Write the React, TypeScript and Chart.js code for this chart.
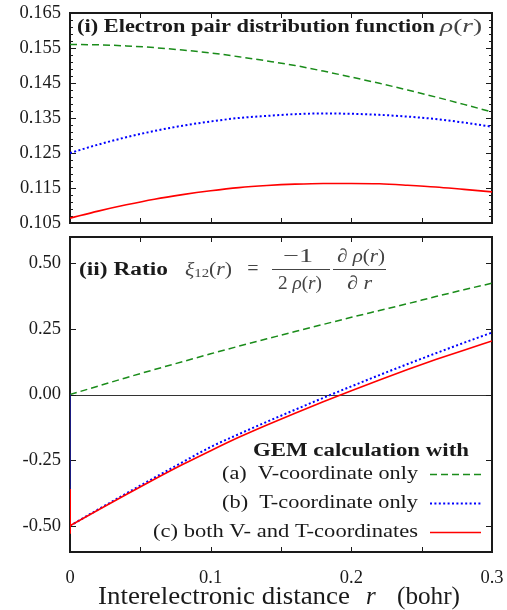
import React, { useEffect, useRef } from "react";
import { Chart, registerables } from "chart.js";

Chart.register(...registerables);

// ---------- data ----------
const rGrid = [0, 0.02, 0.04, 0.06, 0.08, 0.1, 0.12, 0.14, 0.16, 0.18, 0.2, 0.22, 0.24, 0.26, 0.28, 0.3];

// panel (i): pair distribution rho(r)
const rhoV = [0.156, 0.1559, 0.1556, 0.1551, 0.1544, 0.1536, 0.1525, 0.1513, 0.15, 0.1484, 0.1467, 0.1449, 0.143, 0.141, 0.1389, 0.1367];
const rhoT = [0.125, 0.1274, 0.1295, 0.1313, 0.1328, 0.134, 0.135, 0.1356, 0.1361, 0.1363, 0.1362, 0.1359, 0.1354, 0.1347, 0.1337, 0.1325];
const rhoVT = [0.1064, 0.1084, 0.1102, 0.1118, 0.1131, 0.1142, 0.1151, 0.1157, 0.1161, 0.1163, 0.1163, 0.1162, 0.1158, 0.1153, 0.1146, 0.1139];

// panel (ii): ratio xi12(r)
const xiV = [0, 0.032, 0.064, 0.095, 0.125, 0.155, 0.184, 0.212, 0.24, 0.267, 0.294, 0.32, 0.346, 0.373, 0.399, 0.424];
const xiT = [-0.5, -0.438, -0.377, -0.317, -0.258, -0.2, -0.151, -0.104, -0.058, -0.013, 0.031, 0.074, 0.116, 0.157, 0.197, 0.236];
const xiVT = [-0.5, -0.44, -0.381, -0.323, -0.267, -0.214, -0.163, -0.116, -0.071, -0.028, 0.014, 0.055, 0.095, 0.133, 0.169, 0.204];
// numerical spikes at r = 0
const xiTSpike = [0.0, -0.5];
const xiVTSpike = [-0.36, -0.53, -0.5];

// ticks
const topYTicks = [0.105, 0.115, 0.125, 0.135, 0.145, 0.155, 0.165];
const botYTicks = [-0.5, -0.25, 0, 0.25, 0.5];
const xTicks = [0, 0.1, 0.2, 0.3];
const xTickLabels = ["0", "0.1", "0.2", "0.3"];
const xTickMarks = [0.05, 0.1, 0.15, 0.2, 0.25];

const legendTitle = "GEM calculation with";
const legendLabels = ["(a)  V-coordinate only", "(b)  T-coordinate only", "(c) both V- and T-coordinates"];

// ---------- styles ----------
const FONT = "'Liberation Serif', 'Times New Roman', serif";
const GREEN = "#1a8c1a";
const BLUE = "#0000ff";
const RED = "#ff0000";
const INK = "#1a1a1a";
const MATH = "#444444";
const styleV = { borderColor: GREEN, borderWidth: 1.5, borderDash: [7, 4] };
const styleT = { borderColor: BLUE, borderWidth: 2, borderDash: [2, 2.4] };
const styleVT = { borderColor: RED, borderWidth: 1.6, borderDash: [] as number[] };

type Run = { t: string; style?: string; size?: number; dy?: number; color?: string };

// draws a row of text runs; if `fitW` is given the row is stretched horizontally to that width
function drawRuns(
  ctx: CanvasRenderingContext2D,
  runs: Run[],
  x: number,
  y: number,
  align: "left" | "center" | "right",
  base: number,
  color: string,
  fitW?: number
) {
  ctx.save();
  ctx.textBaseline = "middle";
  ctx.textAlign = "left";
  const fonts = runs.map((r) => `${r.style ?? ""} ${r.size ?? base}px ${FONT}`.trim());
  let w = 0;
  const ws = runs.map((r, i) => {
    ctx.font = fonts[i];
    const m = ctx.measureText(r.t).width;
    w += m;
    return m;
  });
  const sx = fitW ? fitW / w : 1;
  const W = w * sx;
  const start = align === "left" ? x : align === "center" ? x - W / 2 : x - W;
  ctx.translate(start, 0);
  ctx.scale(sx, 1);
  let cx = 0;
  runs.forEach((r, i) => {
    ctx.font = fonts[i];
    ctx.fillStyle = r.color ?? color;
    ctx.fillText(r.t, cx, y + (r.dy ?? 0));
    cx += ws[i];
  });
  ctx.restore();
  return W;
}

function makeFramePlugin(yMajor: number[], yMinorStep: number | null, yMin: number, yMax: number) {
  return {
    id: "frame",
    beforeDatasetsDraw(chart: any) {
      const { ctx, chartArea: a, scales } = chart;
      const xs = scales.x;
      const ys = scales.y;
      ctx.save();
      ctx.strokeStyle = INK;
      ctx.lineWidth = 1;
      ctx.beginPath();
      for (const v of xTickMarks) {
        const px = Math.round(xs.getPixelForValue(v)) + 0.5;
        ctx.moveTo(px, a.bottom);
        ctx.lineTo(px, a.bottom - 5);
        ctx.moveTo(px, a.top);
        ctx.lineTo(px, a.top + 5);
      }
      for (const v of yMajor) {
        const py = Math.round(ys.getPixelForValue(v)) + 0.5;
        ctx.moveTo(a.left, py);
        ctx.lineTo(a.left + 6, py);
        ctx.moveTo(a.right, py);
        ctx.lineTo(a.right - 6, py);
      }
      if (yMinorStep) {
        const n = Math.round((yMax - yMin) / yMinorStep);
        for (let i = 1; i < n; i++) {
          const v = yMin + i * yMinorStep;
          const py = Math.round(ys.getPixelForValue(v)) + 0.5;
          ctx.moveTo(a.left, py);
          ctx.lineTo(a.left + 3, py);
          ctx.moveTo(a.right, py);
          ctx.lineTo(a.right - 3, py);
        }
      }
      ctx.stroke();
      ctx.lineWidth = 2;
      ctx.strokeRect(a.left, a.top, a.right - a.left, a.bottom - a.top);
      ctx.restore();
    },
  };
}

const pts = (xs: number[], ys: number[]) => xs.map((x, i) => ({ x, y: ys[i] }));

function baseScales(yMin: number, yMax: number, yTicks: number[], digits: number, showX: boolean, xHeight: number) {
  return {
    x: {
      type: "linear" as const,
      min: 0,
      max: 0.3,
      grid: { display: false, drawTicks: false },
      border: { display: false },
      afterBuildTicks: (s: any) => {
        s.ticks = xTicks.map((v) => ({ value: v }));
      },
      ticks: {
        display: showX,
        padding: 15,
        color: INK,
        font: { family: FONT, size: 18.5 },
        maxRotation: 0,
        autoSkip: false,
        callback: (_v: any, i: number) => xTickLabels[i],
      },
      afterFit: (s: any) => {
        s.height = xHeight;
        s.paddingLeft = 0;
        s.paddingRight = 0;
      },
    },
    y: {
      min: yMin,
      max: yMax,
      grid: { display: false, drawTicks: false },
      border: { display: false },
      afterBuildTicks: (s: any) => {
        s.ticks = yTicks.map((v) => ({ value: v }));
      },
      ticks: {
        padding: 9,
        color: INK,
        font: { family: FONT, size: 18.5 },
        autoSkip: false,
        callback: (v: any) => Number(v).toFixed(digits),
      },
      afterFit: (s: any) => {
        s.width = 70;
        s.paddingTop = 0;
        s.paddingBottom = 0;
      },
    },
  };
}

export default function App() {
  const topRef = useRef<HTMLCanvasElement>(null);
  const botRef = useRef<HTMLCanvasElement>(null);

  useEffect(() => {
    const topLabel = {
      id: "topLabel",
      afterDraw(chart: any) {
        const { ctx, chartArea: a } = chart;
        drawRuns(ctx, [{ t: "(i) Electron pair distribution function", style: "bold" }], a.left + 7, a.top + 14, "left", 18, INK, 358);
        drawRuns(
          ctx,
          [{ t: "ρ", style: "italic" }, { t: "(" }, { t: "r", style: "italic" }, { t: ")" }],
          a.left + 370,
          a.top + 14,
          "left",
          19,
          MATH,
          42
        );
      },
    };

    const top = new Chart(topRef.current!, {
      type: "line",
      data: {
        datasets: [
          { data: pts(rGrid, rhoVT), ...styleVT, cubicInterpolationMode: "monotone" },
          { data: pts(rGrid, rhoT), ...styleT, cubicInterpolationMode: "monotone" },
          { data: pts(rGrid, rhoV), ...styleV, cubicInterpolationMode: "monotone" },
        ] as any,
      },
      options: {
        animation: false,
        responsive: false,
        devicePixelRatio: 1,
        layout: { padding: { left: 0, right: 15, top: 13, bottom: 0 } },
        elements: { point: { radius: 0 } },
        plugins: { legend: { display: false }, tooltip: { enabled: false } },
        scales: baseScales(0.105, 0.165, topYTicks, 3, false, 7) as any,
      },
      plugins: [makeFramePlugin(topYTicks, 0.002, 0.105, 0.165), topLabel],
    });

    const zeroLine = {
      id: "zeroLine",
      beforeDatasetsDraw(chart: any) {
        const { ctx, chartArea: a, scales } = chart;
        const py = Math.round(scales.y.getPixelForValue(0)) + 0.5;
        ctx.save();
        ctx.strokeStyle = "#333";
        ctx.lineWidth = 1.2;
        ctx.beginPath();
        ctx.moveTo(a.left, py);
        ctx.lineTo(a.right, py);
        ctx.stroke();
        ctx.restore();
      },
    };

    const botLabels = {
      id: "botLabels",
      afterDraw(chart: any) {
        const { ctx, chartArea: a } = chart;
        const L = a.left;
        const T = a.top;
        // panel title
        drawRuns(ctx, [{ t: "(ii) Ratio", style: "bold" }], L + 9, T + 33, "left", 18, INK, 89);
        drawRuns(
          ctx,
          [
            { t: "ξ", style: "italic" },
            { t: "12", size: 13, dy: 4 },
            { t: "(" },
            { t: "r", style: "italic" },
            { t: ")" },
          ],
          L + 115,
          T + 33,
          "left",
          19,
          MATH,
          47
        );
        drawRuns(ctx, [{ t: "=" }], L + 183, T + 33, "center", 20, MATH);
        // fractions
        ctx.save();
        ctx.strokeStyle = MATH;
        ctx.lineWidth = 1;
        ctx.beginPath();
        ctx.moveTo(L + 202, T + 32.5);
        ctx.lineTo(L + 260, T + 32.5);
        ctx.moveTo(L + 263, T + 32.5);
        ctx.lineTo(L + 316, T + 32.5);
        ctx.stroke();
        ctx.restore();
        drawRuns(ctx, [{ t: "−1" }], L + 228, T + 20, "center", 19, MATH, 30);
        drawRuns(
          ctx,
          [{ t: "2 " }, { t: "ρ", style: "italic" }, { t: "(" }, { t: "r", style: "italic" }, { t: ")" }],
          L + 230,
          T + 47,
          "center",
          19,
          MATH,
          44
        );
        drawRuns(
          ctx,
          [{ t: "∂ " }, { t: "ρ", style: "italic" }, { t: "(" }, { t: "r", style: "italic" }, { t: ")" }],
          L + 291,
          T + 20,
          "center",
          19,
          MATH,
          48
        );
        drawRuns(ctx, [{ t: "∂ " }, { t: "r", style: "italic" }], L + 289.5, T + 47, "center", 19, MATH, 25);

        // legend
        drawRuns(ctx, [{ t: legendTitle, style: "bold" }], L + 291, T + 214, "center", 18, INK, 216);
        const styles = [styleV, styleT, styleVT];
        const widths = [196, 196, 265];
        legendLabels.forEach((lab, i) => {
          const y = T + 237 + i * 29;
          drawRuns(ctx, [{ t: lab }], L + 348, y, "right", 19.5, INK, widths[i]);
          const st = styles[i];
          ctx.save();
          ctx.strokeStyle = st.borderColor;
          ctx.lineWidth = st.borderWidth;
          ctx.setLineDash(st.borderDash);
          ctx.beginPath();
          ctx.moveTo(L + 360, y + 0.5);
          ctx.lineTo(L + 411, y + 0.5);
          ctx.stroke();
          ctx.restore();
        });

        // x axis title
        const ty = a.bottom + 45;
        drawRuns(ctx, [{ t: "Interelectronic distance" }], 98, ty, "left", 25, INK, 252);
        drawRuns(ctx, [{ t: "r", style: "italic" }], 366, ty, "left", 25, INK);
        drawRuns(ctx, [{ t: "(bohr)" }], 397, ty, "left", 25, INK, 63);
      },
    };

    const bot = new Chart(botRef.current!, {
      type: "line",
      data: {
        datasets: [
          { data: pts([0, 0, 0], xiVTSpike), ...styleVT, borderDash: [], borderWidth: 2, tension: 0 },
          { data: pts(rGrid, xiVT), ...styleVT, cubicInterpolationMode: "monotone" },
          { data: pts([0, 0], xiTSpike), borderColor: "#1a1a80", borderWidth: 2, tension: 0 },
          { data: pts(rGrid, xiT), ...styleT, cubicInterpolationMode: "monotone" },
          { data: pts(rGrid, xiV), ...styleV, cubicInterpolationMode: "monotone" },
        ] as any,
      },
      options: {
        animation: false,
        responsive: false,
        devicePixelRatio: 1,
        layout: { padding: { left: 0, right: 15, top: 7, bottom: 0 } },
        elements: { point: { radius: 0 } },
        plugins: { legend: { display: false }, tooltip: { enabled: false } },
        scales: baseScales(-0.6, 0.6, botYTicks, 2, true, 58) as any,
      },
      plugins: [zeroLine, makeFramePlugin(botYTicks, null, -0.6, 0.6), botLabels],
    });

    return () => {
      top.destroy();
      bot.destroy();
    };
  }, []);

  return (
    <div style={{ position: "fixed", left: 0, top: 0, width: 507, height: 610, background: "#fff" }}>
      <canvas ref={topRef} width={507} height={230} style={{ position: "absolute", left: 0, top: 0 }} />
      <canvas ref={botRef} width={507} height={380} style={{ position: "absolute", left: 0, top: 230 }} />
    </div>
  );
}
